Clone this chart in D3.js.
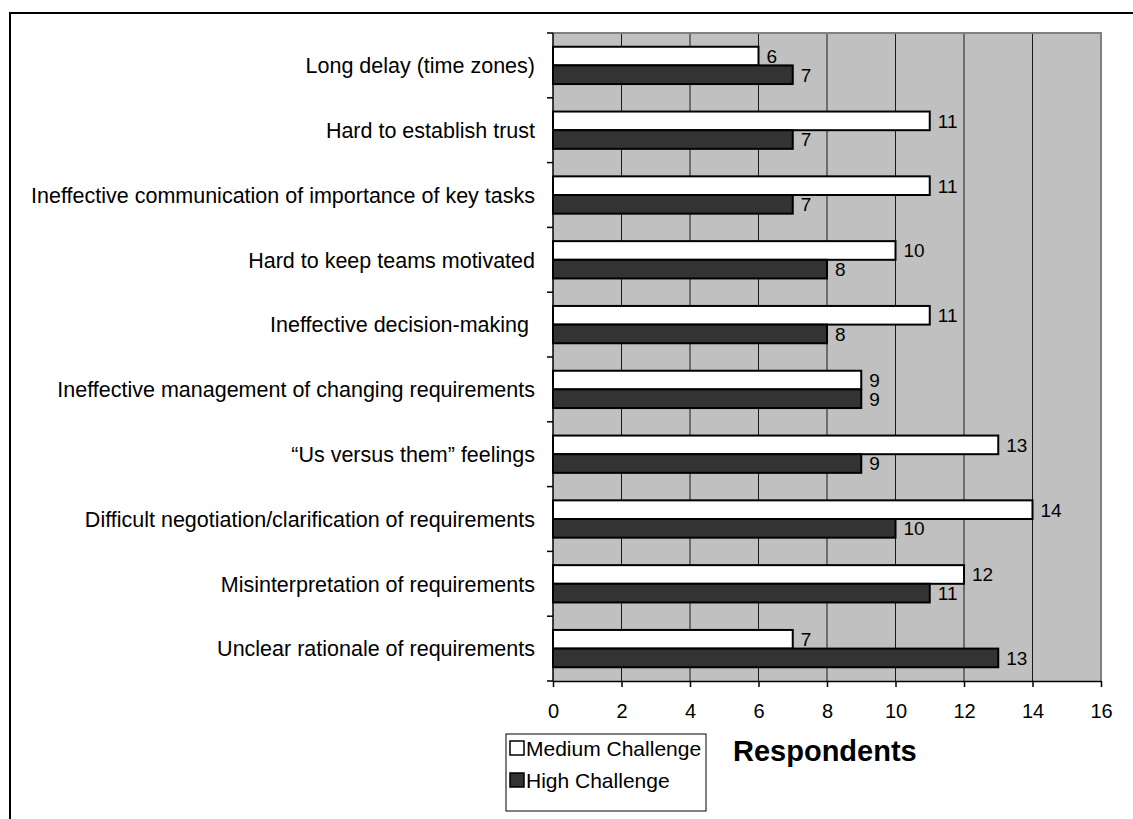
<!DOCTYPE html>
<html>
<head>
<meta charset="utf-8">
<script src="https://cdn.jsdelivr.net/npm/d3@7"></script>
<style>
  html, body { margin: 0; padding: 0; background: #fff; }
  svg { display: block; font-family: Arial, "Liberation Sans", sans-serif; }
  text { white-space: pre; }
</style>
</head>
<body>
<svg id="chart" width="1133" height="819"></svg>
<script>
// Survey of distributed-team challenges: counts of respondents per rating.
const categories = [
  "Long delay (time zones)",
  "Hard to establish trust",
  "Ineffective communication of importance of key tasks",
  "Hard to keep teams motivated",
  "Ineffective decision-making ",
  "Ineffective management of changing requirements",
  "\u201cUs versus them\u201d feelings",
  "Difficult negotiation/clarification of requirements",
  "Misinterpretation of requirements",
  "Unclear rationale of requirements"
];
const seriesNames = ["Medium Challenge", "High Challenge"];
const mediumValues = [6, 11, 11, 10, 11, 9, 13, 14, 12, 7];
const highValues = [7, 7, 7, 8, 8, 9, 9, 10, 11, 13];
const xTicks = [0, 2, 4, 6, 8, 10, 12, 14, 16];
const axisTitle = "Respondents";

const seriesValues = [mediumValues, highValues];
const seriesFill = ["#ffffff", "#333333"];

const svg = d3.select("#chart");

// outer chart frame (open to the right and bottom)
svg.append("rect")
  .attr("x", 10).attr("y", 13).attr("width", 1200).attr("height", 900)
  .attr("fill", "#fff").attr("stroke", "#000").attr("stroke-width", 2);

const plot = { left: 553, right: 1101, top: 33, bottom: 681 };

const x = d3.scaleLinear().domain([0, 16]).range([plot.left, plot.right]);
const y = d3.scaleBand().domain(categories).range([plot.top, plot.bottom]).padding(0);
const ys = d3.scaleBand().domain(seriesNames).range([0, y.bandwidth()])
  .paddingInner(0).paddingOuter(0.737);

// plot background
svg.append("rect")
  .attr("x", plot.left).attr("y", plot.top)
  .attr("width", plot.right - plot.left).attr("height", plot.bottom - plot.top)
  .attr("fill", "#c0c0c0");

// vertical gridlines
svg.append("g").selectAll("line")
  .data(xTicks.filter(t => t > 0 && t < 16))
  .join("line")
  .attr("x1", d => x(d)).attr("x2", d => x(d))
  .attr("y1", plot.top).attr("y2", plot.bottom)
  .attr("stroke", "#1a1a1a").attr("stroke-width", 1);

// plot frame top and right
svg.append("path")
  .attr("d", `M${plot.left},${plot.top}H${plot.right}V${plot.bottom}`)
  .attr("fill", "none").attr("stroke", "#808080").attr("stroke-width", 2);

// bars
const groups = svg.append("g").selectAll("g")
  .data(categories)
  .join("g")
  .attr("transform", d => `translate(0,${y(d)})`);

seriesNames.forEach((s, si) => {
  groups.append("rect")
    .attr("x", x(0))
    .attr("y", ys(s))
    .attr("width", (d, i) => x(seriesValues[si][i]) - x(0))
    .attr("height", ys.bandwidth())
    .attr("fill", seriesFill[si])
    .attr("stroke", "#000").attr("stroke-width", 2);

  groups.append("text")
    .attr("x", (d, i) => x(seriesValues[si][i]) + 8)
    .attr("y", ys(s) + ys.bandwidth() / 2)
    .attr("dy", "0.36em")
    .attr("font-size", 19)
    .attr("fill", "#000")
    .text((d, i) => seriesValues[si][i]);
});

// category axis (left)
const yAxis = svg.append("g")
  .attr("transform", `translate(${plot.left},0)`);
yAxis.append("line")
  .attr("x1", 0).attr("x2", 0).attr("y1", plot.top).attr("y2", plot.bottom)
  .attr("stroke", "#000").attr("stroke-width", 1.5);
const boundaries = categories.map(c => y(c)).concat([plot.bottom]);
yAxis.selectAll("line.tick")
  .data(boundaries)
  .join("line").attr("class", "tick")
  .attr("x1", -6).attr("x2", 0)
  .attr("y1", d => d).attr("y2", d => d)
  .attr("stroke", "#000").attr("stroke-width", 1.5);
yAxis.selectAll("text")
  .data(categories)
  .join("text")
  .attr("x", -18)
  .attr("y", d => y(d) + y.bandwidth() / 2)
  .attr("dy", "0.36em")
  .attr("text-anchor", "end")
  .attr("font-size", 21.5)
  .text(d => d);

// value axis (bottom)
const xAxis = svg.append("g")
  .attr("transform", `translate(0,${plot.bottom})`)
  .call(d3.axisBottom(x).tickValues(xTicks).tickSize(6).tickSizeOuter(0).tickPadding(17));
xAxis.select(".domain").attr("stroke", "#000").attr("stroke-width", 1.5);
xAxis.selectAll(".tick line").attr("stroke", "#000").attr("stroke-width", 1.5);
xAxis.selectAll(".tick text")
  .attr("font-size", 20)
  .attr("font-family", "Arial, 'Liberation Sans', sans-serif")
  .attr("fill", "#000");

// axis title
svg.append("text")
  .attr("x", 733).attr("y", 761)
  .attr("font-size", 29).attr("font-weight", "bold")
  .text(axisTitle);

// legend
const legend = svg.append("g");
legend.append("rect")
  .attr("x", 506).attr("y", 734).attr("width", 200).attr("height", 77)
  .attr("fill", "#fff").attr("stroke", "#000").attr("stroke-width", 1);
const legendItems = legend.selectAll("g")
  .data(seriesNames)
  .join("g")
  .attr("transform", (d, i) => `translate(509,${756 + i * 32})`);
legendItems.append("rect")
  .attr("x", 1).attr("y", -15).attr("width", 14).attr("height", 14)
  .attr("fill", (d, i) => seriesFill[i])
  .attr("stroke", "#000").attr("stroke-width", 1.5);
legendItems.append("text")
  .attr("x", 17).attr("y", 0)
  .attr("font-size", 21)
  .text(d => d);
</script>
</body>
</html>
